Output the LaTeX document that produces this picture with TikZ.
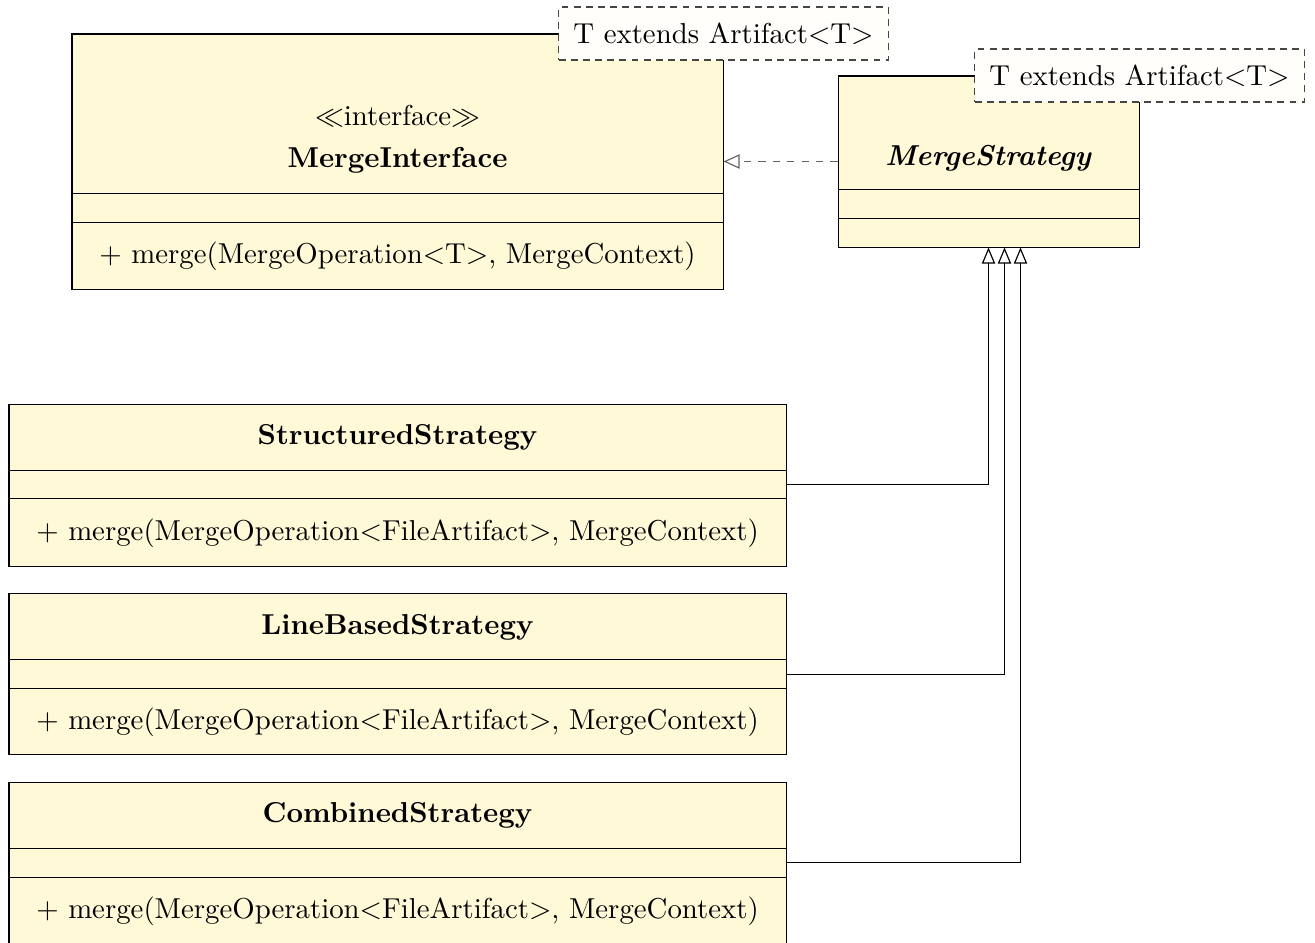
\documentclass[tikz,border=0pt]{standalone}
\usetikzlibrary{fit,calc,arrows.meta}
\definecolor{classfill}{RGB}{255,249,215}
\definecolor{notefill}{RGB}{255,254,250}
\definecolor{notedash}{RGB}{70,70,70}
\definecolor{realgray}{RGB}{100,100,100}
\tikzset{
  classbox/.style={draw=black, fill=classfill, inner sep=0pt, line width=0.35pt},
  divider/.style={draw=black, line width=0.35pt},
  tplnote/.style={draw=notedash, fill=notefill, dash pattern=on 2.4pt off 1.8pt,
    line width=0.35pt, inner xsep=5pt, inner ysep=0pt, minimum height=18.4pt},
  realize/.style={draw=realgray, dash pattern=on 2.5pt off 2.5pt, line width=0.4pt,
    -{Triangle[open,length=5.6pt,width=5pt,line width=0.4pt]}},
  inherit/.style={draw=black, line width=0.35pt,
    -{Triangle[open,length=5.6pt,width=4.6pt,line width=0.4pt]}},
  lbl/.style={inner sep=0pt}
}
\begin{document}
\begin{tikzpicture}[x=0.3472pt, y=-0.3472pt]
\useasboundingbox (0,0) rectangle (1315,942);

% ---- MergeInterface ----
\coordinate (mi-nw) at (72,34);
\coordinate (mi-se) at (723,289);
\node[classbox, fit=(mi-nw)(mi-se)] (mi) {};
\draw[divider] (72,193) -- (723,193);
\draw[divider] (72,222) -- (723,222);
\node[lbl] (mi-stereo) at (397.5,116) {$\ll$interface$\gg$};
\node[lbl] (mi-name) at (397.5,160) {\textbf{MergeInterface}};
\node[lbl] (mi-op) at (397.5,256) {$+$ merge(MergeOperation$<$T$>$, MergeContext)};
\node[tplnote] (mi-tpl) at (mi.north east) {T extends Artifact$<$T$>$};

% ---- MergeStrategy ----
\coordinate (ms-nw) at (838,76);
\coordinate (ms-se) at (1139,247);
\node[classbox, fit=(ms-nw)(ms-se)] (ms) {};
\draw[divider] (838,189) -- (1139,189);
\draw[divider] (838,218) -- (1139,218);
\node[lbl] (ms-name) at (988.5,158) {\textbf{\textit{MergeStrategy}}};
\node[tplnote] (ms-tpl) at (ms.north east) {T extends Artifact$<$T$>$};

% ---- StructuredStrategy ----
\coordinate (ss-nw) at (9,404);
\coordinate (ss-se) at (786,566);
\node[classbox, fit=(ss-nw)(ss-se)] (ss) {};
\draw[divider] (9,470) -- (786,470);
\draw[divider] (9,498) -- (786,498);
\node[lbl] (ss-name) at (397.5,437) {\textbf{StructuredStrategy}};
\node[lbl] (ss-op) at (397.5,533) {$+$ merge(MergeOperation$<$FileArtifact$>$, MergeContext)};
\coordinate (ss-a) at (786,484);

% ---- LineBasedStrategy ----
\coordinate (lb-nw) at (9,593);
\coordinate (lb-se) at (786,754);
\node[classbox, fit=(lb-nw)(lb-se)] (lb) {};
\draw[divider] (9,659) -- (786,659);
\draw[divider] (9,688) -- (786,688);
\node[lbl] (lb-name) at (397.5,627) {\textbf{LineBasedStrategy}};
\node[lbl] (lb-op) at (397.5,722) {$+$ merge(MergeOperation$<$FileArtifact$>$, MergeContext)};
\coordinate (lb-a) at (786,674);

% ---- CombinedStrategy (runs past the lower edge) ----
\coordinate (cs-nw) at (9,782);
\coordinate (cs-se) at (786,955);
\node[classbox, fit=(cs-nw)(cs-se)] (cs) {};
\draw[divider] (9,848) -- (786,848);
\draw[divider] (9,877) -- (786,877);
\node[lbl] (cs-name) at (397.5,815) {\textbf{CombinedStrategy}};
\node[lbl] (cs-op) at (397.5,911) {$+$ merge(MergeOperation$<$FileArtifact$>$, MergeContext)};
\coordinate (cs-a) at (786,862);

% ---- relations ----
\draw[realize] (ms) -- (mi);
\draw[inherit] (ss-a) -| (ms.south);
\draw[inherit] (lb-a) -| ($(ms.south)+(16,0)$);
\draw[inherit] (cs-a) -| ($(ms.south)+(32,0)$);
\end{tikzpicture}
\end{document}
